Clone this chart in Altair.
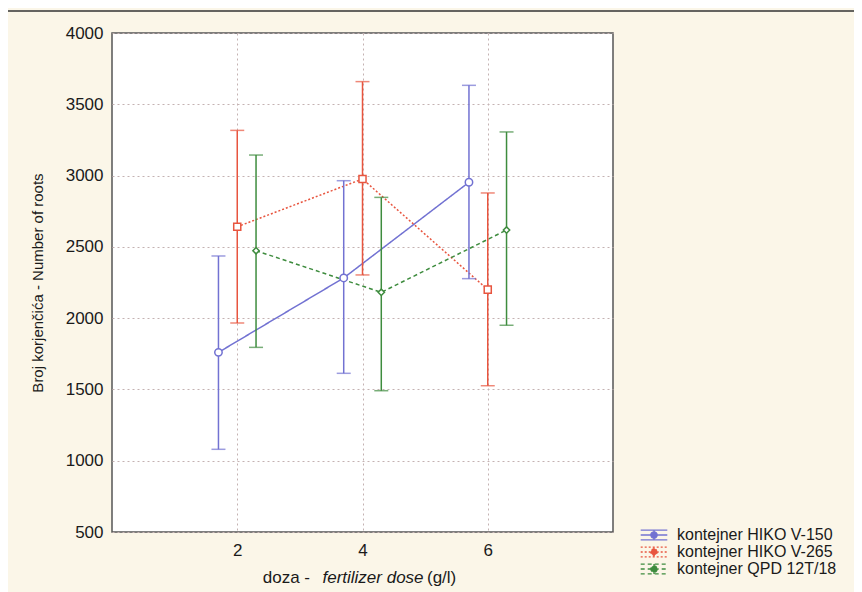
import altair as alt
import pandas as pd

# ---- data ----
series = ["kontejner HIKO V-150", "kontejner HIKO V-265", "kontejner QPD 12T/18"]
doses = [2, 4, 6]
offsets = [-0.3, 0.0, 0.3]          # horizontal dodge of each series (dose units)
means = [
    [1760, 2282, 2953],
    [2641, 2976, 2200],
    [2473, 2181, 2618],
]
lows = [
    [1080, 1613, 2277],
    [1966, 2303, 1526],
    [1795, 1491, 1950],
]
highs = [
    [2436, 2964, 3633],
    [3317, 3659, 2878],
    [3144, 2847, 3306],
]
colors = ["#7272d2", "#e8553f", "#3e8c3e"]
dashes = [[1, 0], [2, 2], [4, 3]]
shapes = ["circle", "square", "diamond"]
marker_sizes = [55, 50, 40]
y_ticks = [500, 1000, 1500, 2000, 2500, 3000, 3500, 4000]
x_ticks = [2, 4, 6]
y_title = "Broj korjenčića - Number of roots"
x_title_parts = ["doza - ", "fertilizer dose", " (g/l)"]

rows = []
for s, name in enumerate(series):
    for i, d in enumerate(doses):
        rows.append({
            "series": name,
            "x": d + offsets[s],
            "mean": means[s][i],
            "lo": lows[s][i],
            "hi": highs[s][i],
        })
df = pd.DataFrame(rows)

W, H = 501, 499

xscale = alt.Scale(domain=[0, 8], nice=False, zero=False)
yscale = alt.Scale(domain=[500, 4000], nice=False, zero=False)
cscale = alt.Scale(domain=series, range=colors)
dscale = alt.Scale(domain=series, range=dashes)

font = "Liberation Sans"
ink = "#1a1a1a"

x_enc = alt.X("x:Q", scale=xscale, axis=alt.Axis(
    values=x_ticks, title=None, grid=True, gridDash=[2, 3], gridColor="#c4b2b2",
    gridWidth=1, ticks=False, domain=False, labelFontSize=17, labelFont=font,
    labelColor=ink, labelPadding=10, format="d"))
y_enc = alt.Y("mean:Q", scale=yscale, axis=alt.Axis(
    values=y_ticks, title=y_title, grid=True, gridDash=[2, 3], gridColor="#c4b2b2",
    gridWidth=1, ticks=False, domain=False, labelFontSize=17, labelFont=font,
    labelColor=ink, labelPadding=9, format="d",
    titleFont=font, titleFontSize=15, titleFontWeight="normal",
    titleColor=ink, titlePadding=20))

# legend glyph: horizontal error-bar with marker, wider than the unit box
legend_path = ("M-1.9,-0.7H1.9M-1.9,0.7H1.9M0,-0.7V0.7M-1.9,0H1.9"
               "M0.45,0A0.45,0.45 0 1,1 -0.45,0A0.45,0.45 0 1,1 0.45,0")

color_enc = alt.Color("series:N", scale=cscale, legend=alt.Legend(
    title=None, orient="none", legendX=534, legendY=494, symbolType=legend_path,
    symbolSize=196, symbolStrokeWidth=1.3, labelFontSize=16, labelFont=font,
    labelColor=ink, rowPadding=1, padding=0, labelOffset=15, labelLimit=400,
    symbolFillColor="transparent"))

base = alt.Chart(df)

lines = base.mark_line(strokeWidth=1.5).encode(
    x=x_enc, y=y_enc, color=color_enc,
    strokeDash=alt.StrokeDash("series:N", scale=dscale, legend=None),
    detail="series:N",
)
bars = base.mark_rule(strokeWidth=1.5).encode(
    x="x:Q", y="lo:Q", y2="hi:Q",
    color=alt.Color("series:N", scale=cscale, legend=None),
)
cap_lo = base.mark_tick(orient="horizontal", size=14, thickness=1.5).encode(
    x="x:Q", y="lo:Q", color=alt.Color("series:N", scale=cscale, legend=None))
cap_hi = base.mark_tick(orient="horizontal", size=14, thickness=1.5).encode(
    x="x:Q", y="hi:Q", color=alt.Color("series:N", scale=cscale, legend=None))

point_layers = []
for s, name in enumerate(series):
    point_layers.append(
        base.transform_filter(alt.datum.series == name).mark_point(
            shape=shapes[s], size=marker_sizes[s], filled=False, fill="white",
            fillOpacity=1, strokeWidth=1.5).encode(
            x="x:Q", y="mean:Q",
            stroke=alt.Stroke("series:N", scale=cscale, legend=None),
        )
    )

# x-axis title with italic middle part
t1 = alt.Chart(pd.DataFrame({"t": [x_title_parts[0]]})).mark_text(
    align="right", baseline="middle", fontSize=17, font=font, color=ink).encode(
    text="t:N", x=alt.value(198), y=alt.value(545))
t2 = alt.Chart(pd.DataFrame({"t": [x_title_parts[1]]})).mark_text(
    align="center", baseline="middle", fontSize=17, font=font, fontStyle="italic",
    color=ink).encode(text="t:N", x=alt.value(261), y=alt.value(545))
t3 = alt.Chart(pd.DataFrame({"t": [x_title_parts[2]]})).mark_text(
    align="left", baseline="middle", fontSize=17, font=font, color=ink).encode(
    text="t:N", x=alt.value(315), y=alt.value(545))

# outer frame top line
frame = alt.Chart(pd.DataFrame({"a": [0]})).mark_rule(color="#333333", strokeWidth=1.5).encode(
    x=alt.value(-110), x2=alt.value(760), y=alt.value(-22))

chart = alt.layer(lines, bars, cap_lo, cap_hi, *point_layers, t1, t2, t3, frame).properties(
    width=W, height=H,
    autosize=alt.AutoSizeParams(type="none"),
    padding={"left": 104, "top": 25, "right": 241, "bottom": 60},
    background="#fbf6e8",
).configure_view(
    fill="white", stroke="#555555", strokeWidth=1.5,
)

chart.save("out.html", embed_options={"renderer": "svg", "actions": False})
